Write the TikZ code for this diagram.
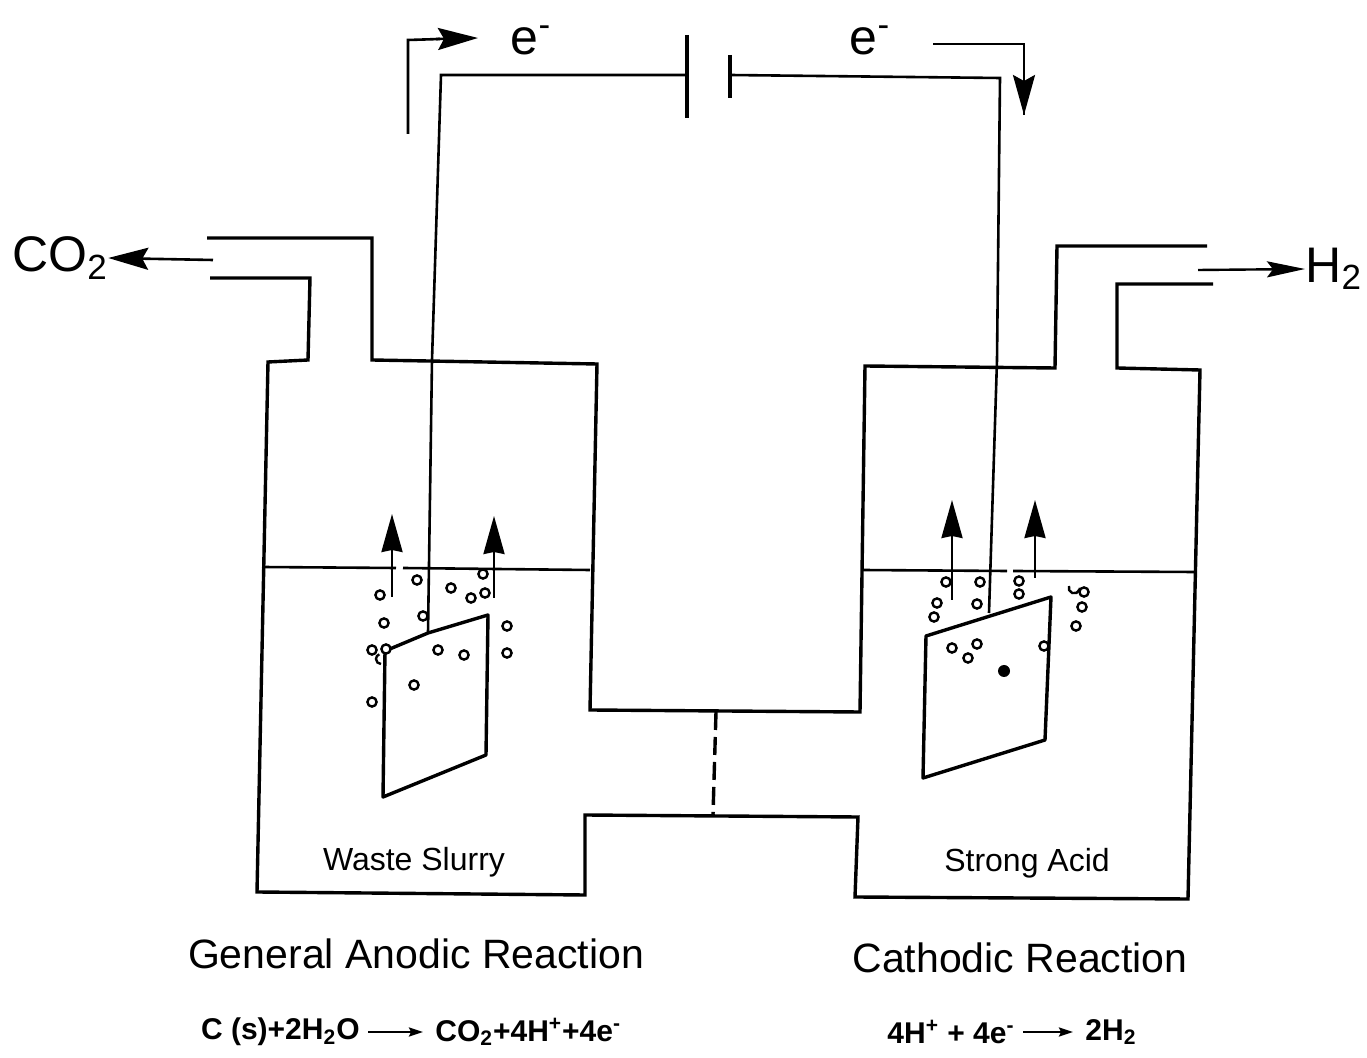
\documentclass[tikz,border=0pt]{standalone}
\usepackage{fontspec}
\setmainfont{Liberation Sans}
\usetikzlibrary{arrows.meta}
\tikzset{
  wall/.style={line width=1.7pt,line join=miter},
  wire/.style={line width=1.3pt},
  bigarrow/.style={line width=1.3pt,-{Stealth[length=20pt,width=11pt,inset=3pt]}},
  midarrow/.style={line width=1.2pt,-{Stealth[length=19pt,width=10.5pt,inset=1pt]}},
  smallarrow/.style={line width=1.2pt,-{Stealth[length=7pt,width=4.5pt,inset=1pt]}},
  bub/.style={draw,line width=1.2pt,fill=white,circle,inner sep=0pt,minimum size=4.6pt},
  big/.style={font=\fontsize{25}{28}\selectfont,inner sep=0pt},
  head/.style={font=\fontsize{20.5}{24}\selectfont,inner sep=0pt},
  small/.style={font=\fontsize{16}{18}\selectfont,inner sep=0pt},
  eqn/.style={font=\fontsize{15}{18}\selectfont\bfseries,inner sep=0pt}
}
\begin{document}
\begin{tikzpicture}[x=0.5pt,y=-0.5pt]
\useasboundingbox (0,0) rectangle (1367,1058);
% cells
\draw[wall] (207,238) -- (372,238) -- (372,360) -- (597,364) -- (590,710) -- (860,712) -- (865,366) -- (1055,368) -- (1057,246) -- (1207,246);
\draw[wall] (210,278) -- (310,278) -- (308,360) -- (268,362) -- (257,892) -- (585,895) -- (585,815) -- (858,817) -- (855,897) -- (1188,899) -- (1200,370) -- (1117,368) -- (1117,284) -- (1213,284);
\draw[line width=1.7pt,dash pattern=on 9pt off 3.5pt] (716,712) -- (713,815);
% water
\draw[wire] (262,567) -- (396,568);
\draw[wire] (403,568) -- (590,570);
\draw[wire] (862,570) -- (1007,571);
\draw[wire] (1013,571) -- (1195,572);
% electrodes
\draw[wall,line join=round] (385,651) -- (428,633) -- (488,615) -- (486,755) -- (383,797) -- cycle;
\draw[wall,line join=round] (926,636) -- (1051,597) -- (1045,740) -- (923,778) -- cycle;
% wires and battery
\draw[wire] (428,633) -- (432,360) -- (441,75) -- (687,75);
\draw[wall] (687,35) -- (687,118);
\draw[wall] (730,55) -- (730,98);
\draw[wire] (730,75) -- (1000,78) -- (997,360) -- (989,613);
% bubbles
\foreach \p in {(380,595),(417,580),(451,588),(483,574),(471,598),(485,593),(384,623),(423,616),(507,626),(507,653),(372,650),(386,649),(438,650),(464,655),(414,685),(372,702),
 (946,582),(980,582),(937,603),(934,617),(977,604),(1019,581),(1019,594),(1084,592),(1082,607),(1076,626),(952,648),(977,644),(968,658),(1044,646)}
  \node[bub] at \p {};
\draw[line width=1.2pt] (381,664) arc (90:250:5);
\draw[line width=1.2pt] (1069,586) arc (200:20:5.5) -- (1080,588);
\fill (1004,671) circle (6);
% gas arrows
\draw[midarrow] (392,597) -- (392,514);
\draw[midarrow] (494,598) -- (494,516);
\draw[midarrow] (952,600) -- (952,500);
\draw[midarrow] (1035,578) -- (1035,500);
% text
\node[big,anchor=west] (co2) at (12,258) {CO\textsubscript{2}};
\node[big,anchor=west] (h2) at (1305,269) {H\textsubscript{2}};
\node[big] (e1) at (531,40) {e\textsuperscript{-}};
\node[big] (e2) at (870,40) {e\textsuperscript{-}};
\node[small] (waste) at (414,862) {Waste Slurry};
\node[small] (acid) at (1027,863) {Strong Acid};
\node[head] (gar) at (416,954) {General Anodic Reaction};
\node[head] (cr) at (1020,958) {Cathodic Reaction};
\node[eqn,anchor=east] (eq1) at (360,1032) {C (s)+2H\textsubscript{2}O};
\node[eqn,anchor=west] (eq2) at (435,1032) {CO\textsubscript{2}+4H\textsuperscript{+}+4e\textsuperscript{-}};
\node[eqn,anchor=east] (eq3) at (1015,1032) {4H\textsuperscript{+} + 4e\textsuperscript{-}};
\node[eqn,anchor=west] (eq4) at (1085,1032) {2H\textsubscript{2}};
% labelled arrows
\coordinate (co2s) at (213,260);
\coordinate (h2s) at (1198,270);
\draw[bigarrow] (co2s) -- (co2.east);
\draw[line width=1.2pt,-{Stealth[length=19pt,width=8pt,inset=3pt]}] (h2s) -- (h2.west);
\coordinate (la) at (408,134);
\coordinate (lb) at (408,40);
\coordinate (lc) at (478,38);
\draw[wire] (la) -- (lb) -- (440,39);
\draw[bigarrow] (436,39) -- (lc);
\coordinate (ra) at (933,44);
\coordinate (rb) at (1024,44);
\coordinate (rc) at (1024,115);
\draw[wire] (ra) -- (rb) -- (rc);
\draw[bigarrow] (1024,70) -- (rc);
\draw[smallarrow] (eq1.east) ++(8,0) -- ([xshift=-6]eq2.west);
\draw[smallarrow] (eq3.east) ++(8,0) -- ([xshift=-6]eq4.west);
\end{tikzpicture}
\end{document}
